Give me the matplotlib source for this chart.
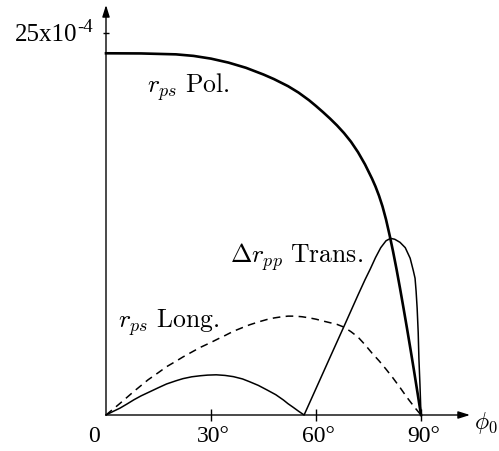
import numpy as np
import matplotlib
matplotlib.use('Agg')
import matplotlib.pyplot as plt

plt.rcParams['font.family'] = 'serif'
plt.rcParams['font.serif'] = ['Liberation Serif', 'DejaVu Serif']
plt.rcParams['mathtext.fontset'] = 'cm'

# angle of incidence (deg) and signal (units of 1e-4)
pol_phi = [0, 10, 20, 25, 30, 35, 40, 45, 48, 52, 55, 58, 60, 62, 64, 66, 68,
           70, 72, 74, 76, 77, 78, 79, 80, 81, 82, 83, 84, 85, 86, 87, 88, 89, 90]
pol_r = [23.67, 23.66, 23.6, 23.5, 23.32, 23.06, 22.72, 22.28, 21.98, 21.52,
         21.1, 20.6, 20.22, 19.82, 19.4, 18.95, 18.45, 17.88, 17.2, 16.4,
         15.47, 14.95, 14.35, 13.65, 12.8, 11.8, 10.72, 9.55, 8.3, 7.0, 5.67,
         4.3, 2.9, 1.46, 0.0]

long_phi = [0, 4, 8, 12, 15, 17.3, 20, 22, 25, 27, 30, 32, 34, 36.4, 39, 41, 44,
            46, 48, 50, 52, 54, 56, 58, 60, 62, 64, 66, 68, 70, 72, 74, 76, 78,
            80, 82, 84, 86, 88, 90]
long_r = [0.0, 0.76, 1.55, 2.3, 2.78, 3.16, 3.52, 3.8, 4.18, 4.43, 4.75, 4.98,
          5.2, 5.48, 5.72, 5.9, 6.12, 6.25, 6.35, 6.42, 6.47, 6.47, 6.43, 6.36,
          6.27, 6.15, 6.04, 5.93, 5.75, 5.45, 5.1, 4.6, 4.05, 3.55, 3.0, 2.42,
          1.8, 1.15, 0.55, 0.0]

trans_phi = [0, 2, 4, 6, 8, 10, 12.6, 15, 17.3, 20, 22, 24.5, 27, 29, 31.5, 34,
             36.4, 39, 41, 43.5, 46, 48.5, 50.7, 52, 53.5, 55, 56.6,
             60, 64, 68, 72, 74, 75.5, 77, 78.5, 80, 81.3, 82.5, 84, 85.5,
             86.9, 87.8, 88.3, 88.6, 88.9, 89.2, 89.4, 89.7, 90]
trans_r = [0.0, 0.23, 0.45, 0.72, 1.0, 1.25, 1.53, 1.79, 2.03, 2.24, 2.38, 2.5,
           2.57, 2.61, 2.63, 2.59, 2.51, 2.36, 2.18, 1.94, 1.64, 1.33, 0.98,
           0.74, 0.5, 0.25, 0.0,
           1.73, 3.77, 5.8, 7.85, 8.85, 9.55, 10.3, 10.95, 11.4, 11.56, 11.5,
           11.3, 10.95, 10.26, 9.45, 8.95, 8.1, 6.98, 5.4, 3.71, 2.0, 0.0]

xticks = [30, 60, 90]
xticklabels = ['30°', '60°', '90°']

fig = plt.figure(figsize=(4.99, 4.51), dpi=100)
ax = fig.add_axes([106/499, 36/451, 364/499, 410/451])
ax.set_xlim(0, 104)
ax.set_ylim(0, 26.83)

ax.plot(pol_phi, pol_r, color='black', lw=1.9, solid_joinstyle='round', clip_on=False)
ax.plot(long_phi, long_r, color='black', lw=1.1, ls=(0, (5, 3.5)), clip_on=False)
ax.plot(trans_phi, trans_r, color='black', lw=1.1, solid_joinstyle='round', clip_on=False)

for s in ax.spines.values():
    s.set_visible(False)

arrow = dict(arrowstyle='-|>,head_length=0.7,head_width=0.22', color='black',
             lw=1.0, shrinkA=0, shrinkB=0)
ax.annotate('', xy=(104, 0), xytext=(0, 0), arrowprops=arrow, annotation_clip=False)
ax.annotate('', xy=(0, 26.83), xytext=(0, 0), arrowprops=arrow, annotation_clip=False)

ax.set_xticks(xticks)
ax.set_yticks([25])
ax.tick_params(axis='x', direction='inout', length=8, width=1.0, labelbottom=False)
ax.tick_params(axis='y', direction='inout', length=5, width=1.0, labelleft=False)

fs = 17
for x, lab in zip(xticks, xticklabels):
    ax.text(x + 0.7, -0.75, lab, ha='center', va='top', fontsize=fs, clip_on=False)
ax.text(-3.4, -0.75, '0', ha='center', va='top', fontsize=fs, clip_on=False)
ax.text(-8.3, 24.5, '25x10', ha='right', va='baseline', fontsize=18, clip_on=False)
ax.text(-8.3, 25.05, '-4', ha='left', va='baseline', fontsize=13.5, clip_on=False)
ax.text(105.2, -0.9, r'$\phi_0$', ha='left', va='baseline', fontsize=fs,
        clip_on=False)

lfs = 18.5
ax.text(11.7, 21.07, r'$r_{ps}\ \mathrm{Pol.}$', fontsize=lfs, va='baseline')
ax.text(3.4, 5.69, r'$r_{ps}\ \mathrm{Long.}$', fontsize=lfs, va='baseline')
ax.text(35.4, 9.95, r'$\Delta r_{pp}\ \mathrm{Trans.}$', fontsize=lfs, va='baseline')

fig.savefig('out.png', dpi=100)
